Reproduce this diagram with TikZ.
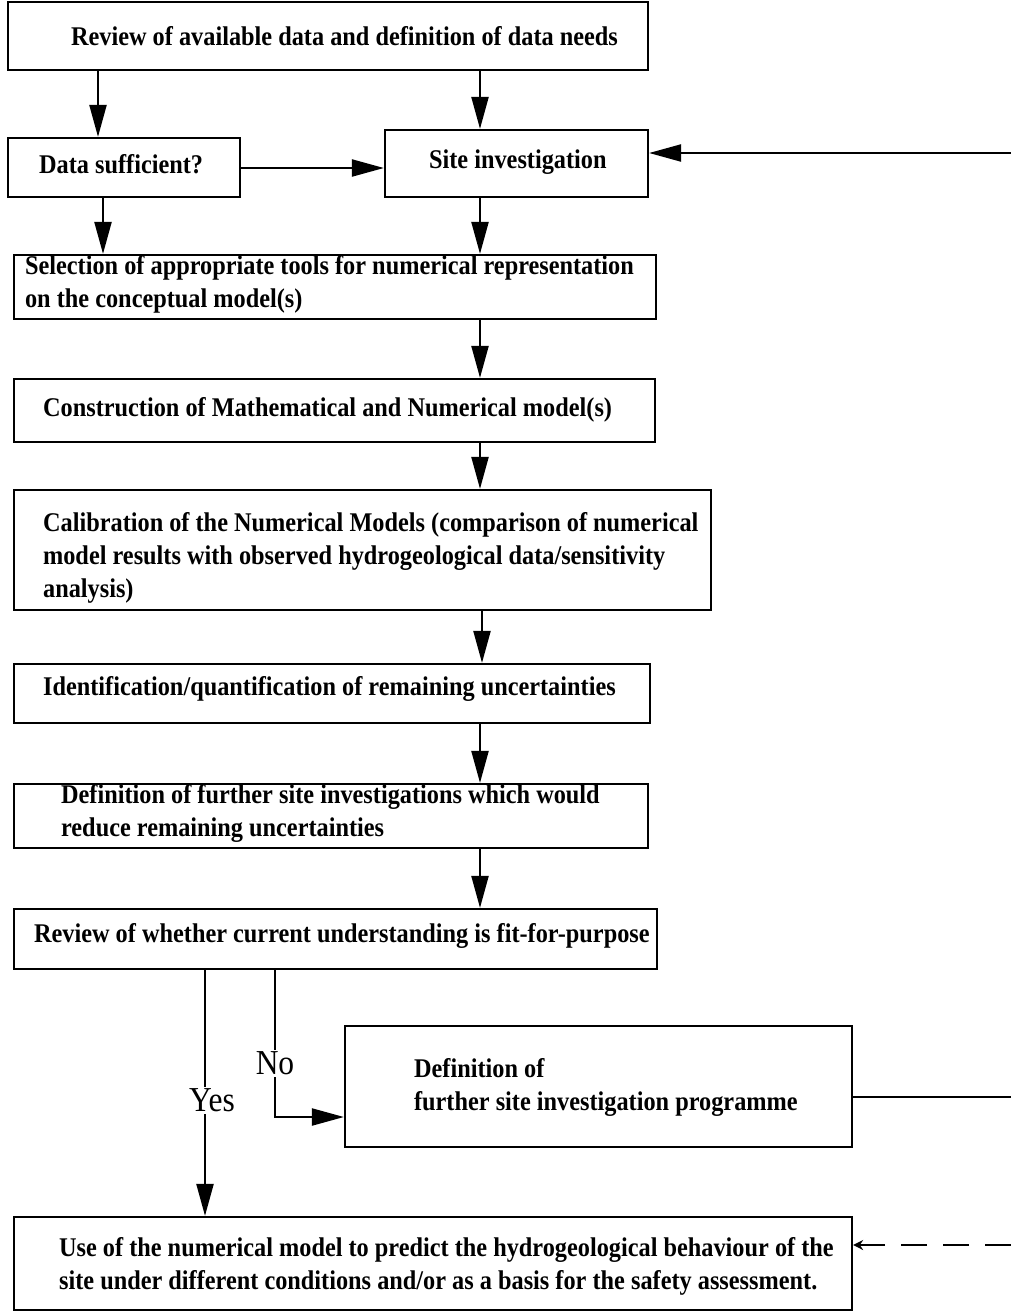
\documentclass[tikz,border=0pt]{standalone}
\usepackage{fontspec}
\setmainfont{Liberation Serif}[FakeStretch=0.9]
\usetikzlibrary{arrows.meta, fit}

\begin{document}
\begin{tikzpicture}[x=0.5pt, y=-0.5pt, line width=1.1pt]

\tikzset{
  box/.style={draw, rectangle, inner sep=0pt},
  txt/.style={anchor=west, inner sep=0pt, align=left, font=\bfseries\fontsize{13.5}{16.5}\selectfont},
  lbl/.style={fill=white, inner sep=1pt, font=\fontsize{17.5}{20}\selectfont},
  arr/.style={-{Triangle[length=16pt, width=8.5pt]}}
}

\useasboundingbox (0,0) rectangle (1011,1312);

% Boxes
\node[box, fit={(8,2) (648,70)}] (review) {};
\node[box, fit={(8,138) (240,197)}] (suff) {};
\node[box, fit={(385,130) (648,197)}] (site) {};
\node[box, fit={(14,255) (656,319)}] (select) {};
\node[box, fit={(14,379) (655,442)}] (constr) {};
\node[box, fit={(14,490) (711,610)}] (calib) {};
\node[box, fit={(14,664) (650,723)}] (ident) {};
\node[box, fit={(14,784) (648,848)}] (further) {};
\node[box, fit={(14,909) (657,969)}] (fitp) {};
\node[box, fit={(345,1026) (852,1147)}] (prog) {};
\node[box, fit={(14,1217) (852,1310)}] (use) {};

% Texts
\node[txt] (reviewtxt) at (70,36) {Review of available data and definition of data needs};
\node[txt] (sufftxt) at (38,164) {Data sufficient?};
\node[txt] (sitetxt) at (428,162) {Site investigation};
\node[txt] (selecttxt) at (24,284) {Selection of appropriate tools for numerical representation\\on the conceptual model(s)};
\node[txt] (constrtxt) at (42,410) {Construction of Mathematical and Numerical model(s)};
\node[txt] (calibtxt) at (42,558) {Calibration of the Numerical Models (comparison of numerical\\model results with observed hydrogeological data/sensitivity\\analysis)};
\node[txt] (identtxt) at (42,689) {Identification/quantification of remaining uncertainties};
\node[txt] (furthertxt) at (60,813) {Definition of further site investigations which would\\reduce remaining uncertainties};
\node[txt] (fitptxt) at (33,936) {Review of whether current understanding is fit-for-purpose};
\node[txt] (progtxt) at (413,1087) {Definition of\\further site investigation programme};
\node[txt] (usetxt) at (58,1266) {Use of the numerical model to predict the hydrogeological behaviour of the\\site under different conditions and/or as a basis for the safety assessment.};

% Connections
\draw[arr] (review.south -| 98,0) -- (suff.north -| 98,0);
\draw[arr] (review.south -| 480,0) -- (site.north -| 480,0);
\draw[arr] (suff.east |- 0,168) -- (site.west |- 0,168);
\draw[arr] (suff.south -| 103,0) -- (select.north -| 103,0);
\draw[arr] (site.south -| 480,0) -- (select.north -| 480,0);
\draw[arr] (select.south -| 480,0) -- (constr.north -| 480,0);
\draw[arr] (constr.south -| 480,0) -- (calib.north -| 480,0);
\draw[arr] (calib.south -| 482,0) -- (ident.north -| 482,0);
\draw[arr] (ident.south -| 480,0) -- (further.north -| 480,0);
\draw[arr] (further.south -| 480,0) -- (fitp.north -| 480,0);
\draw[arr] (fitp.south -| 205,0) -- node[lbl, pos=0.53, xshift=3.5pt] (yes) {Yes} (use.north -| 205,0);
\draw[arr] (fitp.south -| 275,0) -- node[lbl, pos=0.635] (no) {No} (275,1117) -- (prog.west |- 0,1117);
\draw[arr] (prog.east |- 0,1097) -- (1014,1097) -- (1014,153) -- (site.east |- 0,153);
\draw[-{Stealth[length=5pt, width=5pt]}, dash pattern=on 13pt off 8pt] (1011,1245) -- (use.east |- 0,1245);

\end{tikzpicture}
\end{document}
